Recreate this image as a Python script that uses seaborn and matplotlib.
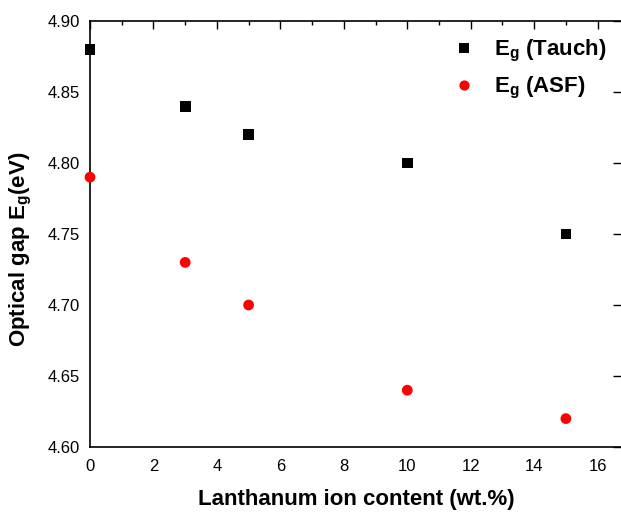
import numpy as np
import pandas as pd
import matplotlib
matplotlib.use("Agg")
import matplotlib.pyplot as plt
import seaborn as sns
from matplotlib.ticker import MultipleLocator

la_content = [0, 3, 5, 10, 15]
eg_tauch = [4.88, 4.84, 4.82, 4.80, 4.75]
eg_asf = [4.79, 4.73, 4.70, 4.64, 4.62]
series_names = [r"$\mathbf{E_g}$ (Tauch)", r"$\mathbf{E_g}$ (ASF)"]

df = pd.DataFrame({
    "x": la_content * 2,
    "y": eg_tauch + eg_asf,
    "series": [series_names[0]] * len(la_content) + [series_names[1]] * len(la_content),
})

sns.set_theme(style="white")
plt.rcParams["font.family"] = ["Liberation Sans", "DejaVu Sans"]
plt.rcParams["mathtext.fontset"] = "custom"
plt.rcParams["mathtext.rm"] = "Liberation Sans"
plt.rcParams["mathtext.bf"] = "Liberation Sans:bold"
plt.rcParams["mathtext.it"] = "Liberation Sans:italic"

fig = plt.figure(figsize=(6.21, 5.14), dpi=100)
ax = fig.add_axes([90/621, 1-447/514, (623-90)/621, (447-21)/514])

sns.scatterplot(data=df, x="x", y="y", hue="series", style="series",
                palette={series_names[0]: "black", series_names[1]: "#ff0000"},
                markers={series_names[0]: "s", series_names[1]: "o"},
                s=60, linewidth=0, ax=ax, clip_on=False, zorder=3)

ax.set_xlim(0, 16.8)
ax.set_ylim(4.60, 4.90)
ax.xaxis.set_major_locator(MultipleLocator(2))
ax.xaxis.set_minor_locator(MultipleLocator(1))
ax.yaxis.set_major_locator(MultipleLocator(0.05))
ax.yaxis.set_minor_locator(MultipleLocator(0.025))
ax.yaxis.set_major_formatter(matplotlib.ticker.FormatStrFormatter("%.2f"))

for sp in ax.spines.values():
    sp.set_color("black")
    sp.set_linewidth(1.2)

# x axis: bottom ticks outward, top ticks inward
ax.tick_params(axis="x", which="both", direction="out", color="black", width=1.0,
               labelsize=12, labelcolor="black", top=True, pad=3)
ax.tick_params(axis="x", which="major", length=5.5)
ax.tick_params(axis="x", which="minor", length=3)
for t in ax.xaxis.get_major_ticks() + ax.xaxis.get_minor_ticks():
    t.tick2line.set_marker(matplotlib.lines.TICKDOWN)

# y axis: ticks inward on both sides
ax.tick_params(axis="y", which="both", direction="in", color="black", width=1.0,
               labelsize=12, labelcolor="black", pad=7)
ax.tick_params(axis="y", which="major", length=7.5, right=True)
ax.tick_params(axis="y", which="minor", length=3.5)

ax.set_xlabel("Lanthanum ion content (wt.%)", fontsize=16, fontweight="bold",
              labelpad=11, color="black")
ax.set_ylabel(r"Optical gap $\mathbf{E_g}$(eV)", fontsize=16, fontweight="bold",
              color="black")
ax.yaxis.set_label_coords((34 - 90) / 533, (447 - 249) / 426)

leg = ax.legend(loc="upper left", bbox_to_anchor=(433/621, 1-18/514),
                bbox_transform=fig.transFigure, frameon=False,
                prop={"size": 16, "weight": "bold"}, handlelength=1.0,
                handletextpad=0.85, labelspacing=0.5, markerscale=0.95)
for txt in leg.get_texts():
    txt.set_color("black")
ax.grid(False)

fig.savefig("out.png", dpi=100)
